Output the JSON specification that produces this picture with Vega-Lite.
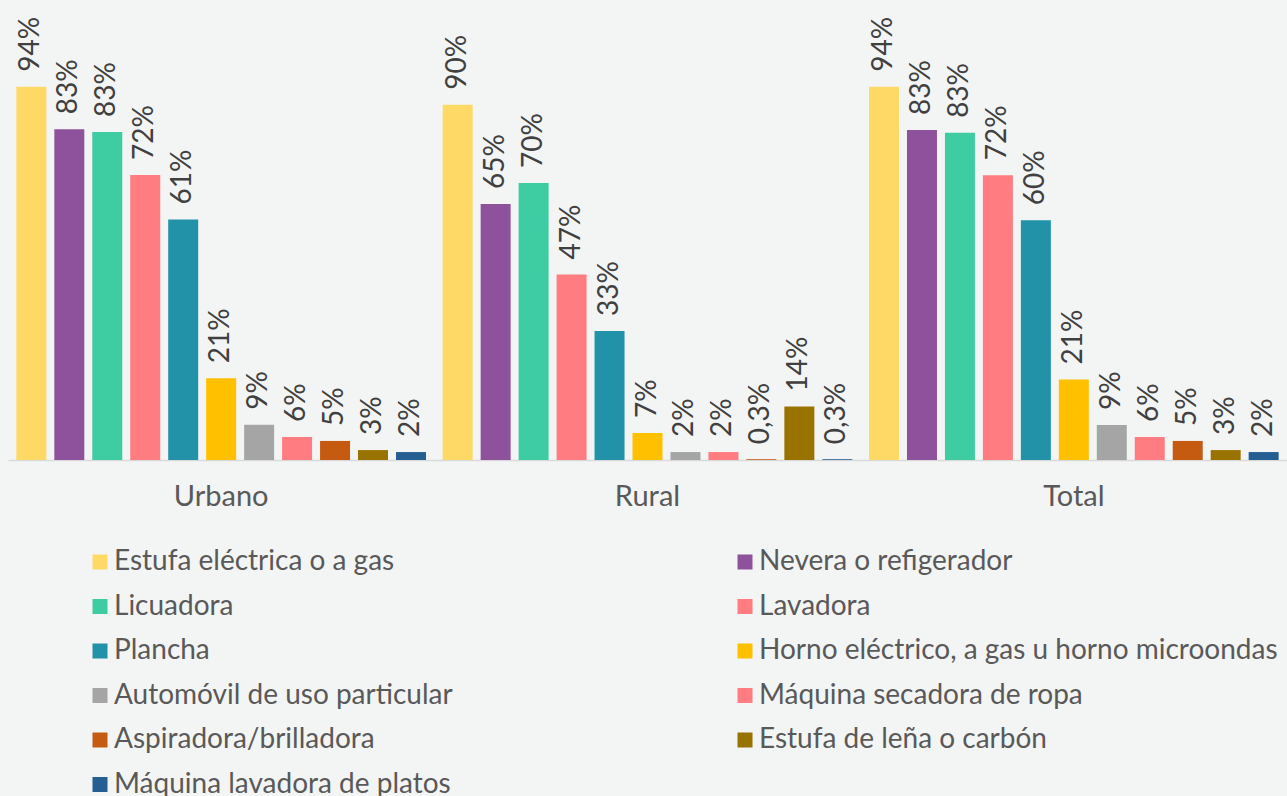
{
  "$schema": "https://vega.github.io/schema/vega-lite/v6.json",
  "width": 1279,
  "height": 397,
  "autosize": {"type": "none"},
  "padding": {"left": 8, "top": 63, "right": 0, "bottom": 336},
  "background": "#f3f4f4",
  "config": {"font": "Lato", "view": {"stroke": null}},
  "data": {
    "values": [
      {"zona": "Urbano", "item": "Estufa eléctrica o a gas", "valor": 94.0, "etiqueta": "94%"},
      {"zona": "Urbano", "item": "Nevera o refigerador", "valor": 83.3, "etiqueta": "83%"},
      {"zona": "Urbano", "item": "Licuadora", "valor": 82.6, "etiqueta": "83%"},
      {"zona": "Urbano", "item": "Lavadora", "valor": 71.8, "etiqueta": "72%"},
      {"zona": "Urbano", "item": "Plancha", "valor": 60.6, "etiqueta": "61%"},
      {"zona": "Urbano", "item": "Horno eléctrico, a gas u horno microondas", "valor": 20.6, "etiqueta": "21%"},
      {"zona": "Urbano", "item": "Automóvil de uso particular", "valor": 8.9, "etiqueta": "9%"},
      {"zona": "Urbano", "item": "Máquina secadora de ropa", "valor": 5.8, "etiqueta": "6%"},
      {"zona": "Urbano", "item": "Aspiradora/brilladora", "valor": 4.8, "etiqueta": "5%"},
      {"zona": "Urbano", "item": "Estufa de leña o carbón", "valor": 2.5, "etiqueta": "3%"},
      {"zona": "Urbano", "item": "Máquina lavadora de platos", "valor": 2.0, "etiqueta": "2%"},
      {"zona": "Rural", "item": "Estufa eléctrica o a gas", "valor": 89.5, "etiqueta": "90%"},
      {"zona": "Rural", "item": "Nevera o refigerador", "valor": 64.5, "etiqueta": "65%"},
      {"zona": "Rural", "item": "Licuadora", "valor": 69.8, "etiqueta": "70%"},
      {"zona": "Rural", "item": "Lavadora", "valor": 46.7, "etiqueta": "47%"},
      {"zona": "Rural", "item": "Plancha", "valor": 32.5, "etiqueta": "33%"},
      {"zona": "Rural", "item": "Horno eléctrico, a gas u horno microondas", "valor": 6.8, "etiqueta": "7%"},
      {"zona": "Rural", "item": "Automóvil de uso particular", "valor": 2.0, "etiqueta": "2%"},
      {"zona": "Rural", "item": "Máquina secadora de ropa", "valor": 2.0, "etiqueta": "2%"},
      {"zona": "Rural", "item": "Aspiradora/brilladora", "valor": 0.2, "etiqueta": "0,3%"},
      {"zona": "Rural", "item": "Estufa de leña o carbón", "valor": 13.5, "etiqueta": "14%"},
      {"zona": "Rural", "item": "Máquina lavadora de platos", "valor": 0.2, "etiqueta": "0,3%"},
      {"zona": "Total", "item": "Estufa eléctrica o a gas", "valor": 94.0, "etiqueta": "94%"},
      {"zona": "Total", "item": "Nevera o refigerador", "valor": 83.1, "etiqueta": "83%"},
      {"zona": "Total", "item": "Licuadora", "valor": 82.4, "etiqueta": "83%"},
      {"zona": "Total", "item": "Lavadora", "valor": 71.7, "etiqueta": "72%"},
      {"zona": "Total", "item": "Plancha", "valor": 60.4, "etiqueta": "60%"},
      {"zona": "Total", "item": "Horno eléctrico, a gas u horno microondas", "valor": 20.3, "etiqueta": "21%"},
      {"zona": "Total", "item": "Automóvil de uso particular", "valor": 8.8, "etiqueta": "9%"},
      {"zona": "Total", "item": "Máquina secadora de ropa", "valor": 5.8, "etiqueta": "6%"},
      {"zona": "Total", "item": "Aspiradora/brilladora", "valor": 4.8, "etiqueta": "5%"},
      {"zona": "Total", "item": "Estufa de leña o carbón", "valor": 2.5, "etiqueta": "3%"},
      {"zona": "Total", "item": "Máquina lavadora de platos", "valor": 2.0, "etiqueta": "2%"}
    ]
  },
  "encoding": {
    "x": {
      "field": "zona", "type": "nominal", "sort": ["Urbano", "Rural", "Total"],
      "scale": {"paddingInner": 0, "paddingOuter": 0},
      "axis": {"title": null, "labelAngle": 0, "labelFontSize": 29, "labelColor": "#595959", "labelPadding": 22, "ticks": false, "domainColor": "#d9d9d9", "domainWidth": 1.5, "labelFont": "Lato"}
    },
    "xOffset": {
      "field": "item", "type": "nominal",
      "sort": ["Estufa eléctrica o a gas", "Nevera o refigerador", "Licuadora", "Lavadora", "Plancha", "Horno eléctrico, a gas u horno microondas", "Automóvil de uso particular", "Máquina secadora de ropa", "Aspiradora/brilladora", "Estufa de leña o carbón", "Máquina lavadora de platos"],
      "scale": {"paddingInner": 0.21, "paddingOuter": 0.22}
    },
    "y": {
      "field": "valor", "type": "quantitative",
      "scale": {"domain": [0, 100], "nice": false},
      "axis": null
    }
  },
  "layer": [
    {
      "mark": {"type": "bar"},
      "encoding": {
        "color": {
          "field": "item", "type": "nominal",
          "scale": {
            "domain": ["Estufa eléctrica o a gas", "Nevera o refigerador", "Licuadora", "Lavadora", "Plancha", "Horno eléctrico, a gas u horno microondas", "Automóvil de uso particular", "Máquina secadora de ropa", "Aspiradora/brilladora", "Estufa de leña o carbón", "Máquina lavadora de platos"],
            "range": ["#FFD966", "#8E529C", "#3ECDA2", "#FF7C80", "#2192A8", "#FFC000", "#A5A5A5", "#FF7C80", "#C55A11", "#997300", "#255E91"]
          },
          "legend": {
            "title": null, "orient": "none", "legendX": 78, "legendY": 485,
            "direction": "horizontal",
            "columns": 2, "columnPadding": 278, "rowPadding": 16.5,
            "symbolType": "square", "symbolSize": 225, "symbolStrokeWidth": 0,
            "labelFontSize": 28, "labelFont": "Lato", "labelColor": "#595959",
            "labelLimit": 800, "labelOffset": 0
          }
        }
      }
    },
    {
      "mark": {"type": "text", "angle": 270, "align": "left", "baseline": "middle", "dx": 15, "fontSize": 28, "color": "#404040", "font": "Lato"},
      "encoding": {"text": {"field": "etiqueta"}}
    }
  ]
}
